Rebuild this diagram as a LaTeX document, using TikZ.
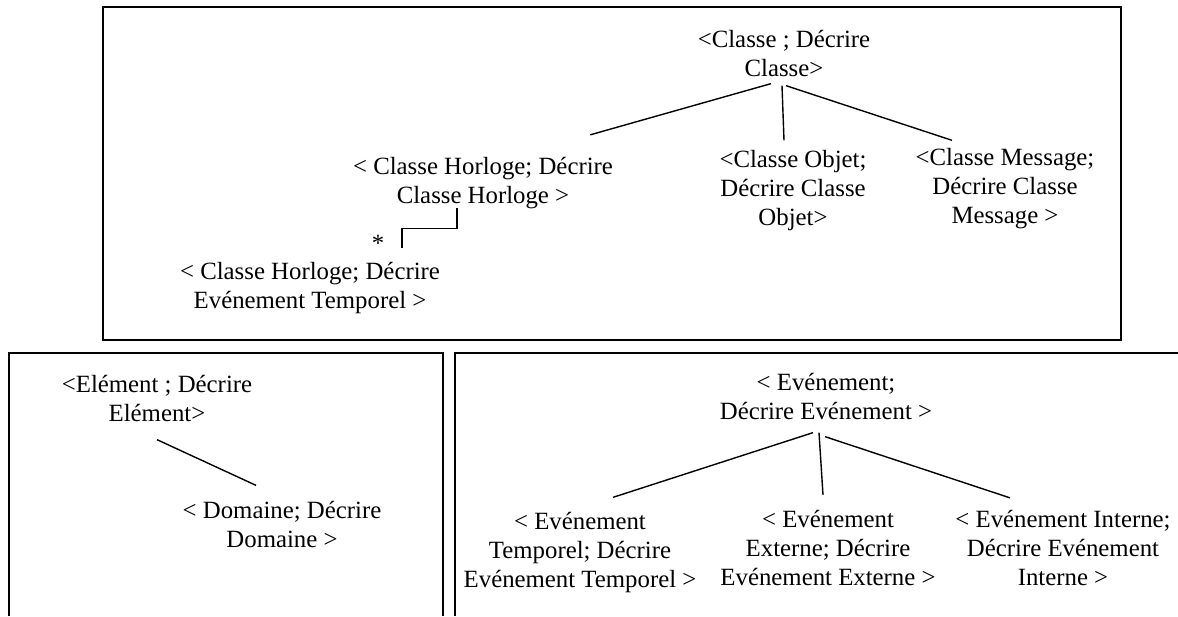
\documentclass[tikz,border=0pt]{standalone}
\usepackage{fontspec}
\setmainfont{Liberation Serif}
\usetikzlibrary{calc}
\tikzstyle{concept} = [align=center,
inner sep=0pt,
font=\fontsize{12.4pt}{14.5pt}\selectfont]
\tikzstyle{frame} = [line width=1pt]
\tikzstyle{branch} = [line width=0.7pt]
\begin{document}
\begin{tikzpicture}[x=0.5pt, y=-0.5pt]
    \useasboundingbox (0,0) rectangle (1178,616);

    % frames
    \draw[frame] (103,7) rectangle (1121,340);
    \draw[frame] (9,616) -- (9,353) -- (443,353) -- (443,616);
    \draw[frame] (455,616) -- (455,353) -- (1178,353);

    % class tree
    \node (classe) [concept] at (784,53) {<Classe ; Décrire\\Classe>};
    \node (horloge) [concept] at (483,183) {< Classe Horloge; Décrire\\Classe Horloge >};
    \node (objet) [concept] at (793,191) {<Classe Objet;\\Décrire Classe\\Objet>};
    \node (message) [concept] at (1005,189) {<Classe Message;\\Décrire Classe\\Message >};
    \node (evtemp) [concept] at (310,288) {< Classe Horloge; Décrire\\Evénement Temporel >};
    \node (star) [concept] at (378,243) {*};

    % element tree
    \node (element) [concept] at (157,398) {<Elément ; Décrire\\Elément>};
    \node (domaine) [concept] at (282,524) {< Domaine; Décrire\\Domaine >};

    % event tree
    \node (evenement) [concept] at (826,396) {< Evénement;\\Décrire Evénement >};
    \node (evtemp2) [concept] at (580,553) {< Evénement\\Temporel; Décrire\\Evénement Temporel >};
    \node (evext) [concept] at (828,548) {< Evénement\\Externe; Décrire\\Evénement Externe >};
    \node (evint) [concept] at (1063,548) {< Evénement Interne;\\Décrire Evénement\\Interne >};

    % branches
    \draw[branch] ($(classe.south)+(-13,7)$) -- ($(horloge.north east)+(-23,-22)$);
    \draw[branch] ($(classe.south)+(-2,9)$) -- ($(objet.north)+(-9,-10)$);
    \draw[branch] ($(classe.south)+(2,9)$) -- ($(message.north)+(-53,-8)$);
    \draw[branch] ($(horloge.south)+(-26,-1)$) -- ++(0,20) -| ($(evtemp.north)+(92,-14)$);

    \draw[branch] ($(element.south)+(0,18)$) -- ($(domaine.north)+(-26,-15)$);

    \draw[branch] ($(evenement.south)+(-13,13)$) -- ($(evtemp2.north)+(33,-15)$);
    \draw[branch] ($(evenement.south)+(-7,13)$) -- ($(evext.north)+(-5,-15)$);
    \draw[branch] ($(evenement.south)+(-1,17)$) -- ($(evint.north)+(-53,-12)$);

\end{tikzpicture}
\end{document}
